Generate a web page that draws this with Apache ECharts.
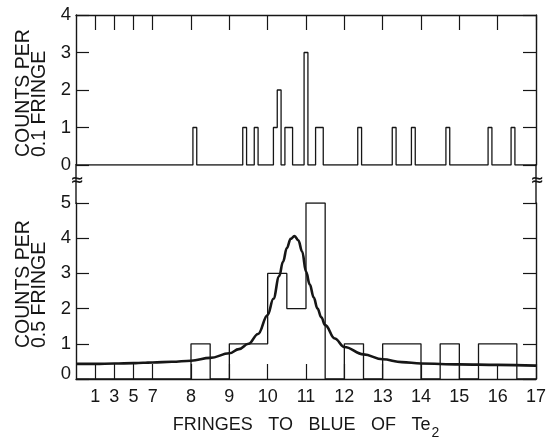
<!DOCTYPE html>
<html><head><meta charset="utf-8">
<script src="https://cdn.jsdelivr.net/npm/echarts@6/dist/echarts.min.js"></script>
<style>html,body{margin:0;padding:0;background:#fff}#c{width:552px;height:441px}</style>
</head><body><div id="c"></div>
<script>
// x-axis ticks (fringes) and their labels
const tickFringes = [1, 3, 5, 7, 8, 9, 10, 11, 12, 13, 14, 15, 16, 17];
const tickLabels  = ['1','3','5','7','8','9','10','11','12','13','14','15','16','17'];
// upper panel: counts per 0.1 fringe (bin centres, counts)
const fineCentres = [8.1, 9.4, 9.7, 10.2, 10.3, 10.5, 10.6, 11.0, 11.3, 11.4, 12.4, 13.3, 13.8, 14.7, 15.8, 16.4];
const fineCounts  = [1, 1, 1, 1, 2, 1, 1, 3, 1, 1, 1, 1, 1, 1, 1, 1];
// lower panel: counts per 0.5 fringe (bin starts, counts)
const coarseStarts = [8, 9, 9.5, 10, 10.5, 11, 12, 13, 13.5, 14.5, 15.5, 16];
const coarseCounts = [1, 1, 1, 3, 2, 5, 1, 1, 1, 1, 1, 1];
// fitted curve (fringes, counts per 0.5 fringe)
const curveX = [-1, 1, 3, 5, 6, 7, 7.5, 8, 8.5, 9, 9.25, 9.5, 9.75, 10, 10.15, 10.3, 10.4, 10.5, 10.6, 10.7, 10.8, 10.9, 11, 11.1, 11.2, 11.3, 11.4, 11.5, 11.75, 12, 12.5, 13, 13.5, 14, 15, 16, 17];
const curveY = [0.43, 0.43, 0.44, 0.45, 0.46, 0.47, 0.49, 0.52, 0.60, 0.73, 0.85, 1.0, 1.28, 1.82, 2.28, 2.92, 3.33, 3.72, 3.98, 4.06, 3.94, 3.62, 3.05, 2.68, 2.32, 2.0, 1.75, 1.53, 1.15, 0.91, 0.70, 0.56, 0.48, 0.44, 0.415, 0.40, 0.38];

// axis is broken: fringes below 7 are compressed 4:1
const AX_MIN = -1, AX_MAX = 17;
function disp(x) { return x >= 7 ? x : 7 - (7 - x) / 4; }

function outline(starts, width, counts, x0, x1) {
  const pts = [[disp(x0), 0]];
  let prevEnd = null;
  for (let i = 0; i < starts.length; i++) {
    const s = starts[i], e = s + width, v = counts[i];
    if (prevEnd !== null && Math.abs(prevEnd - s) < 1e-6) {
      pts.push([disp(s), v]);
    } else {
      if (prevEnd !== null) pts.push([disp(prevEnd), 0]);
      pts.push([disp(s), 0]);
      pts.push([disp(s), v]);
    }
    pts.push([disp(e), v]);
    prevEnd = e;
  }
  pts.push([disp(prevEnd), 0]);
  pts.push([disp(x1), 0]);
  return pts;
}

const INK = '#161616';
const tickDisp = tickFringes.map(disp);
const labelFont = "'Liberation Sans', Arial, sans-serif";

const axLine = { show: true, onZero: false, lineStyle: { color: INK, width: 1.4 } };
function yAx(grid, pos, max, labels, zeroUp) {
  return {
    type: 'value', gridIndex: grid, position: pos, min: 0, max: max, interval: 1,
    axisLine: axLine,
    axisTick: { show: true, inside: true, length: 13, lineStyle: { color: INK, width: 1.2 } },
    splitLine: { show: false },
    axisLabel: labels ? {
      show: true, margin: 5, color: INK, fontFamily: labelFont, fontSize: 18.5,
      formatter: v => (zeroUp && v === 0) ? '{z|0}' : String(v),
      rich: { z: { fontFamily: labelFont, fontSize: 18.5, color: INK, padding: [0, 0, 11, 0] } }
    } : { show: false }
  };
}

const option = {
  animation: false,
  backgroundColor: '#fff',
  grid: [
    { left: 76, right: 16, top: 15, height: 150 },
    { left: 76, right: 16, top: 203, height: 186 }
  ],
  xAxis: [
    {
      type: 'value', gridIndex: 0, position: 'top', min: disp(AX_MIN), max: AX_MAX,
      axisLine: axLine,
      axisTick: { show: true, inside: true, length: 15, customValues: tickDisp, lineStyle: { color: INK, width: 1.2 } },
      axisLabel: { show: false }, splitLine: { show: false }
    },
    {
      type: 'value', gridIndex: 1, position: 'bottom', min: disp(AX_MIN), max: AX_MAX,
      axisLine: axLine,
      axisTick: { show: true, inside: true, length: 15, customValues: tickDisp, lineStyle: { color: INK, width: 1.2 } },
      axisLabel: {
        show: true, customValues: tickDisp, margin: 9, color: INK, fontFamily: labelFont, fontSize: 18,
        formatter: v => { const i = tickDisp.findIndex(d => Math.abs(d - v) < 1e-6); return i >= 0 ? tickLabels[i] : ''; }
      },
      splitLine: { show: false },
      name: '{a|FRINGES}{s| }{a|TO}{s| }{a|BLUE}{s| }{a|OF}{s| }{a|Te}{b|2}',
      nameLocation: 'middle', nameGap: 37,
      nameTextStyle: {
        rich: {
          a: { fontFamily: labelFont, fontSize: 18, color: INK, lineHeight: 22, verticalAlign: 'top' },
          s: { fontFamily: labelFont, fontSize: 18, width: 15.5, lineHeight: 22, verticalAlign: 'top' },
          b: { fontFamily: labelFont, fontSize: 14, color: INK, lineHeight: 14, padding: [10, 0, 0, 1], verticalAlign: 'top' }
        }
      }
    }
  ],
  yAxis: [
    yAx(0, 'left', 4, true, false),
    yAx(0, 'right', 4, false, false),
    yAx(1, 'left', 5, true, true),
    yAx(1, 'right', 5, false, false)
  ],
  graphic: [
    { type: 'line', shape: { x1: 76, y1: 164, x2: 76, y2: 204 }, style: { stroke: INK, lineWidth: 1.4 } },
    { type: 'line', shape: { x1: 536, y1: 164, x2: 536, y2: 204 }, style: { stroke: INK, lineWidth: 1.4 } },
    { type: 'text', x: 77, y: 181, style: { text: '≈', font: "bold 16px 'DejaVu Sans'", fill: INK, textAlign: 'center', textVerticalAlign: 'middle' } },
    { type: 'text', x: 537, y: 181, style: { text: '≈', font: "bold 16px 'DejaVu Sans'", fill: INK, textAlign: 'center', textVerticalAlign: 'middle' } },
    { type: 'text', x: 32, y: 157, rotation: Math.PI / 2,
      style: { text: 'COUNTS PER\n0.1 FRINGE', font: "19.5px 'Liberation Sans', Arial, sans-serif", lineHeight: 16, fill: INK, textAlign: 'left', textVerticalAlign: 'middle' } },
    { type: 'text', x: 32, y: 348, rotation: Math.PI / 2,
      style: { text: 'COUNTS PER\n0.5 FRINGE', font: "19.5px 'Liberation Sans', Arial, sans-serif", lineHeight: 16, fill: INK, textAlign: 'left', textVerticalAlign: 'middle' } }
  ],
  series: [
    {
      type: 'line', xAxisIndex: 0, yAxisIndex: 0, showSymbol: false, symbol: 'none',
      data: outline(fineCentres.map(c => c - 0.05), 0.1, fineCounts, AX_MIN, AX_MAX),
      lineStyle: { color: INK, width: 1.3 }, z: 3
    },
    {
      type: 'line', xAxisIndex: 1, yAxisIndex: 2, showSymbol: false, symbol: 'none',
      data: outline(coarseStarts, 0.5, coarseCounts, AX_MIN, AX_MAX),
      lineStyle: { color: INK, width: 1.3 }, z: 3
    },
    {
      type: 'line', xAxisIndex: 1, yAxisIndex: 2, showSymbol: false, symbol: 'none',
      smooth: 0.4, smoothMonotone: 'x',
      data: curveX.map((x, i) => [disp(x), curveY[i]]),
      lineStyle: { color: INK, width: 2.6 }, z: 4
    }
  ]
};
const chart = echarts.init(document.getElementById('c'), null, { renderer: 'canvas' });
chart.setOption(option);
</script></body></html>
